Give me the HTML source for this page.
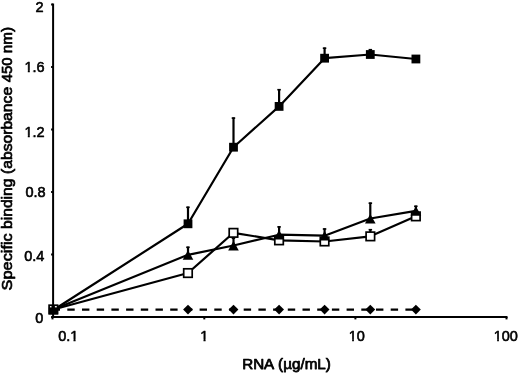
<!DOCTYPE html>
<html><head><meta charset="utf-8"><title>chart</title>
<style>html,body{margin:0;padding:0;background:#fff}svg{display:block}</style></head>
<body>
<svg width="520" height="373" viewBox="0 0 520 373">
<rect width="520" height="373" fill="#fff"/>
<g stroke="#000" stroke-width="2" fill="none">
<path d="M53.1 3.5V318"/>
<path d="M52.1 317H507.5"/>
<path d="M51.1 317.0H53"/>
<path d="M51.1 254.5H53"/>
<path d="M51.1 192.0H53"/>
<path d="M51.1 129.4H53"/>
<path d="M51.1 66.9H53"/>
<path d="M51.1 4.6H53"/>
<path d="M52.5 317V319.4"/>
<path d="M204.3 317V319.4"/>
<path d="M355.4 317V319.4"/>
<path d="M506.5 317V319.4"/>
</g>
<path d="M52.6 309.6H415.9" stroke="#000" stroke-width="2.2" stroke-dasharray="7.4 7.3" fill="none"/>
<path d="M188.0 223.8V206.6" stroke="#000" stroke-width="2.2" fill="none"/>
<path d="M186.2 207.3H189.7" stroke="#000" stroke-width="1.6" fill="none"/>
<path d="M233.5 147.2V117.4" stroke="#000" stroke-width="2.2" fill="none"/>
<path d="M231.7 118.1H235.2" stroke="#000" stroke-width="1.6" fill="none"/>
<path d="M279.1 106.4V89.0" stroke="#000" stroke-width="2.2" fill="none"/>
<path d="M277.3 89.7H280.8" stroke="#000" stroke-width="1.6" fill="none"/>
<path d="M324.6 58.2V47.5" stroke="#000" stroke-width="2.2" fill="none"/>
<path d="M322.8 48.2H326.3" stroke="#000" stroke-width="1.6" fill="none"/>
<path d="M370.3 54.5V49.0" stroke="#000" stroke-width="2.2" fill="none"/>
<path d="M368.6 49.7H372.1" stroke="#000" stroke-width="1.6" fill="none"/>
<path d="M188.0 254.8V246.6" stroke="#000" stroke-width="2.2" fill="none"/>
<path d="M186.2 247.3H189.7" stroke="#000" stroke-width="1.6" fill="none"/>
<path d="M233.5 245.5V237.5" stroke="#000" stroke-width="2.2" fill="none"/>
<path d="M231.7 238.2H235.2" stroke="#000" stroke-width="1.6" fill="none"/>
<path d="M279.1 234.7V226.2" stroke="#000" stroke-width="2.2" fill="none"/>
<path d="M277.3 226.9H280.8" stroke="#000" stroke-width="1.6" fill="none"/>
<path d="M324.6 235.7V228.3" stroke="#000" stroke-width="2.2" fill="none"/>
<path d="M322.8 229.0H326.3" stroke="#000" stroke-width="1.6" fill="none"/>
<path d="M370.3 218.5V202.5" stroke="#000" stroke-width="2.2" fill="none"/>
<path d="M368.6 203.2H372.1" stroke="#000" stroke-width="1.6" fill="none"/>
<path d="M415.9 210.8V205.6" stroke="#000" stroke-width="2.2" fill="none"/>
<path d="M414.1 206.3H417.6" stroke="#000" stroke-width="1.6" fill="none"/>
<path d="M370.3 236.3V229.0" stroke="#000" stroke-width="2.2" fill="none"/>
<path d="M368.6 229.7H372.1" stroke="#000" stroke-width="1.6" fill="none"/>
<polyline points="53.4,309.5 188.0,273.0 233.5,232.8 279.1,240.3 324.6,241.5 370.3,236.3 415.9,216.3" stroke="#000" stroke-width="2.2" fill="none" stroke-linejoin="round"/>
<polyline points="53.4,309.5 188.0,254.8 233.5,245.5 279.1,234.7 324.6,235.7 370.3,218.5 415.9,210.8" stroke="#000" stroke-width="2.2" fill="none" stroke-linejoin="round"/>
<polyline points="53.4,310.0 188.0,223.8 233.5,147.2 279.1,106.4 324.6,58.2 370.3,54.5 415.9,59.0" stroke="#000" stroke-width="2.2" fill="none" stroke-linejoin="round"/>
<rect x="49.1" y="305.2" width="8.5" height="8.5" fill="#fff" stroke="#000" stroke-width="1.7"/>
<rect x="183.7" y="268.8" width="8.5" height="8.5" fill="#fff" stroke="#000" stroke-width="1.7"/>
<rect x="229.2" y="228.6" width="8.5" height="8.5" fill="#fff" stroke="#000" stroke-width="1.7"/>
<rect x="274.8" y="236.1" width="8.5" height="8.5" fill="#fff" stroke="#000" stroke-width="1.7"/>
<rect x="320.3" y="237.2" width="8.5" height="8.5" fill="#fff" stroke="#000" stroke-width="1.7"/>
<rect x="366.1" y="232.1" width="8.5" height="8.5" fill="#fff" stroke="#000" stroke-width="1.7"/>
<rect x="411.6" y="212.1" width="8.5" height="8.5" fill="#fff" stroke="#000" stroke-width="1.7"/>
<path d="M188.0 250.2L193.3 259.7H182.7Z" fill="#000"/>
<path d="M233.5 240.9L238.8 250.4H228.2Z" fill="#000"/>
<path d="M279.1 230.1L284.4 239.6H273.8Z" fill="#000"/>
<path d="M324.6 231.1L329.9 240.6H319.3Z" fill="#000"/>
<path d="M370.3 213.9L375.6 223.4H365.0Z" fill="#000"/>
<path d="M415.9 206.2L421.2 215.7H410.6Z" fill="#000"/>
<rect x="48.8" y="307.4" width="9.1" height="7" fill="#000"/>
<rect x="51.5" y="305.5" width="3.4" height="3" fill="#000"/>
<rect x="183.6" y="219.4" width="8.8" height="8.8" fill="#000"/>
<rect x="229.1" y="142.8" width="8.8" height="8.8" fill="#000"/>
<rect x="274.7" y="102.0" width="8.8" height="8.8" fill="#000"/>
<rect x="320.2" y="53.8" width="8.8" height="8.8" fill="#000"/>
<rect x="365.9" y="50.1" width="8.8" height="8.8" fill="#000"/>
<rect x="411.5" y="54.6" width="8.8" height="8.8" fill="#000"/>
<path d="M188.0 304.7l4.9 4.9l-4.9 4.9l-4.9 -4.9Z" fill="#000"/>
<path d="M233.5 304.7l4.9 4.9l-4.9 4.9l-4.9 -4.9Z" fill="#000"/>
<path d="M279.1 304.7l4.9 4.9l-4.9 4.9l-4.9 -4.9Z" fill="#000"/>
<path d="M324.6 304.7l4.9 4.9l-4.9 4.9l-4.9 -4.9Z" fill="#000"/>
<path d="M370.3 304.7l4.9 4.9l-4.9 4.9l-4.9 -4.9Z" fill="#000"/>
<path d="M415.9 304.7l4.9 4.9l-4.9 4.9l-4.9 -4.9Z" fill="#000"/>
<g font-family="'Liberation Sans', Arial, sans-serif" font-size="14.5" fill="#000" stroke="#000" stroke-width="0.60" stroke-linejoin="round">
<text x="43.7" y="11.8" text-anchor="end">2</text>
<text x="44.6" y="71.7" text-anchor="end">1.6</text>
<text x="44.6" y="136.5" text-anchor="end">1.2</text>
<text x="45.6" y="196.7" text-anchor="end">0.8</text>
<text x="44.3" y="260.7" text-anchor="end">0.4</text>
<text x="43.3" y="322.5" text-anchor="end">0</text>
<text x="68.3" y="340.6" text-anchor="middle">0.1</text>
<text x="204.2" y="340.6" text-anchor="middle">1</text>
<text x="356.8" y="340.6" text-anchor="middle">10</text>
<text x="505.8" y="340.6" text-anchor="middle">100</text>
<text y="368.5" font-size="14.8" stroke-width="0.75"><tspan x="242.2" textLength="31.2" lengthAdjust="spacingAndGlyphs">RNA</tspan> <tspan x="278.1" textLength="52.8" lengthAdjust="spacingAndGlyphs">(µg/mL)</tspan></text>
<text transform="translate(11.8 0) rotate(-90)" font-size="14.8" stroke-width="0.7"><tspan x="-290.4" textLength="57.1" lengthAdjust="spacingAndGlyphs">Specific</tspan> <tspan x="-228.9" textLength="50.3" lengthAdjust="spacingAndGlyphs">binding</tspan> <tspan x="-174.0" textLength="87.1" lengthAdjust="spacingAndGlyphs">(absorbance</tspan> <tspan x="-82.3" textLength="24.8" lengthAdjust="spacingAndGlyphs">450</tspan> <tspan x="-53.2" textLength="26.2" lengthAdjust="spacingAndGlyphs">nm)</tspan></text>
</g>
<g fill="#fff"><rect x="24.20" y="70.00" width="3.59" height="3.30"/><rect x="29.81" y="70.00" width="2.64" height="3.30"/><rect x="24.20" y="135.00" width="3.59" height="3.30"/><rect x="29.81" y="135.00" width="2.64" height="3.30"/><rect x="70.20" y="339.00" width="3.28" height="3.30"/><rect x="75.60" y="339.00" width="2.85" height="3.30"/><rect x="200.20" y="339.00" width="3.28" height="3.30"/><rect x="205.60" y="339.00" width="2.85" height="3.30"/><rect x="348.20" y="339.00" width="3.92" height="3.30"/><rect x="353.91" y="339.00" width="3.54" height="3.30"/><rect x="493.20" y="339.00" width="3.92" height="3.30"/><rect x="498.91" y="339.00" width="3.54" height="3.30"/></g>
</svg>
</body></html>
